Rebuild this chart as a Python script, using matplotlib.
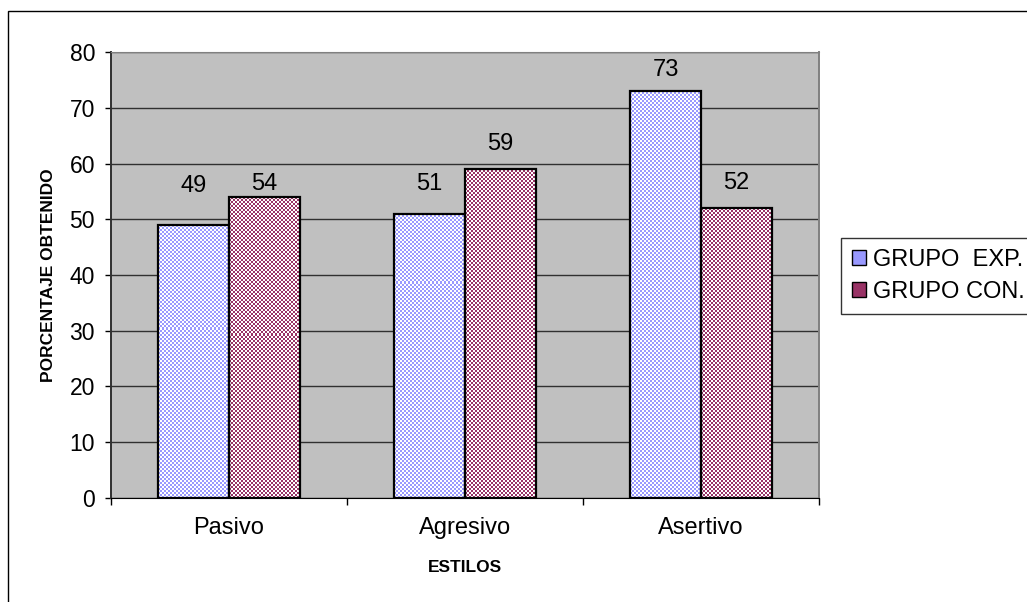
import numpy as np
import matplotlib
matplotlib.use('Agg')
import matplotlib.pyplot as plt
from matplotlib.patches import Patch, Rectangle

plt.rcParams['font.family'] = ['Liberation Sans', 'DejaVu Sans']

estilos = ['Pasivo', 'Agresivo', 'Asertivo']
grupo_exp = [49, 51, 73]
grupo_con = [54, 59, 52]
series_names = ['GRUPO  EXP.', 'GRUPO CON.']
y_ticks = [0, 10, 20, 30, 40, 50, 60, 70, 80]

col_exp = '#9999FF'
col_con = '#993366'
bg = '#C0C0C0'
# label offsets above the bar tops, in pixels
off_exp = [39, 30, 21]
off_con = [13, 25, 25]


def checker(color, nx, ny, cell=2):
    rgb = np.array(matplotlib.colors.to_rgb(color))
    j, i = np.meshgrid(np.arange(nx), np.arange(ny))
    mask = ((i // cell + j // cell) % 2 == 0)
    img = np.ones((ny, nx, 3))
    img[mask] = rgb
    return img


def fill_pattern(ax, bars, color):
    # snap each image to whole screen pixels so the checker is not resampled
    fig.canvas.draw()
    trans = ax.transData
    inv = trans.inverted()
    for b in bars:
        x0, y0 = b.get_x(), b.get_y()
        x1, y1 = x0 + b.get_width(), y0 + b.get_height()
        (px0, py0), (px1, py1) = trans.transform([(x0, y0), (x1, y1)])
        px0, py0 = np.floor(px0), np.floor(py0)
        px1, py1 = np.ceil(px1), np.ceil(py1)
        (dx0, dy0), (dx1, dy1) = inv.transform([(px0, py0), (px1, py1)])
        nx, ny = int(px1 - px0), int(py1 - py0)
        im = ax.imshow(checker(color, nx, ny), extent=(dx0, dx1, dy0, dy1),
                       origin='lower', aspect='auto', interpolation='none',
                       zorder=2.8)
        im.set_clip_path(b)


fig = plt.figure(figsize=(10.27, 6.02), dpi=100)
ax = fig.add_axes([0.1081, 0.1728, 0.6894, 0.7408])
ax.set_facecolor(bg)

x = np.arange(len(estilos))
w = 0.3
b1 = ax.bar(x - w / 2, grupo_exp, w, facecolor='none', edgecolor='black',
            linewidth=1.6, zorder=3)
b2 = ax.bar(x + w / 2, grupo_con, w, facecolor='none', edgecolor='black',
            linewidth=1.6, zorder=3)

ax.set_xlim(-0.5, len(estilos) - 0.5)
ax.set_ylim(0, 80)

fill_pattern(ax, b1, col_exp)
fill_pattern(ax, b2, col_con)
ax.set_xlim(-0.5, len(estilos) - 0.5)
ax.set_ylim(0, 80)

for bars, vals, offs in [(b1, grupo_exp, off_exp), (b2, grupo_con, off_con)]:
    for b, v, o in zip(bars, vals, offs):
        ax.annotate(str(v), (b.get_x() + b.get_width() / 2, v),
                    xytext=(0, o), textcoords='offset pixels',
                    ha='center', va='center', fontsize=17, zorder=4)

ax.set_yticks(y_ticks)
ax.yaxis.grid(True, color='#303030', linewidth=1.0)
ax.set_axisbelow(True)
ax.tick_params(axis='y', direction='out', length=4.5, width=1, pad=7,
               labelsize=16.5, color='black')

ax.set_xticks(np.arange(len(estilos) + 1) - 0.5)
ax.set_xticklabels([])
ax.set_xticks(x, minor=True)
ax.set_xticklabels(estilos, minor=True)
ax.tick_params(axis='x', which='major', direction='out', length=5, width=1)
ax.tick_params(axis='x', which='minor', length=0, pad=14, labelsize=17)

ax.spines['left'].set_color('#303030')
ax.spines['left'].set_linewidth(1.4)
ax.spines['bottom'].set_color('black')
ax.spines['top'].set_color('#808080')
ax.spines['right'].set_color('#808080')
ax.spines['right'].set_linewidth(1.4)

ax.set_ylabel('PORCENTAJE OBTENIDO', fontsize=12.5, fontweight='bold')
ax.yaxis.set_label_coords(-0.078, 0.5)
ax.set_xlabel('ESTILOS', fontsize=12.5, fontweight='bold')
ax.xaxis.set_label_coords(0.5, -0.14)

handles = [Patch(facecolor=col_exp, edgecolor='black', linewidth=1),
           Patch(facecolor=col_con, edgecolor='black', linewidth=1)]
leg = fig.legend(handles, series_names, loc='upper left',
                 bbox_to_anchor=(841 / 1027, 1 - 238 / 602),
                 fontsize=17, frameon=True, fancybox=False,
                 handlelength=0.6, handleheight=0.6, handletextpad=0.3,
                 borderpad=0.45, labelspacing=0.45, borderaxespad=0)
leg.get_frame().set_edgecolor('black')
leg.get_frame().set_linewidth(1)

# outer chart border
fig.patches.append(Rectangle((8 / 1027, -0.05), 1.1, 1 - 11 / 602 + 0.05,
                             transform=fig.transFigure, fill=False,
                             edgecolor='black', linewidth=1))

fig.savefig('out.png', dpi=100)
